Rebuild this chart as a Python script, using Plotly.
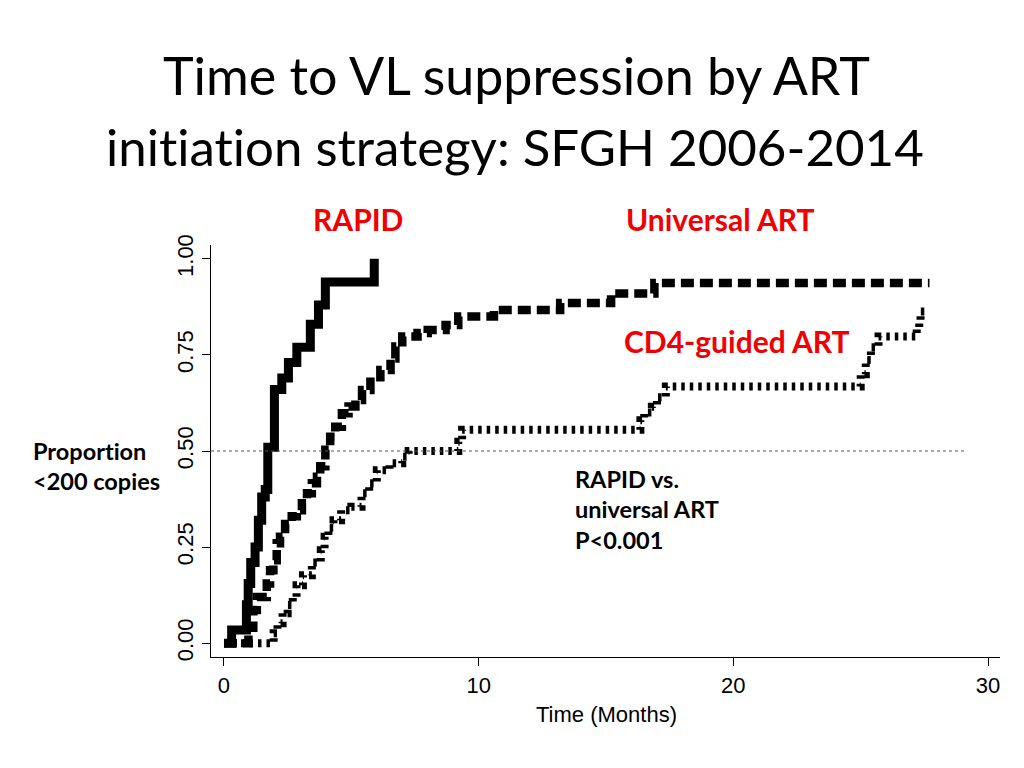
import plotly.graph_objects as go

# ---- data ----
rapid_t = [0, 0.3, 0.88, 0.95, 1.05, 1.22, 1.35, 1.48, 1.62, 1.72, 1.98, 2.27, 2.53, 2.86, 3.39, 3.71, 3.98, 5.9, 5.9]
rapid_s = [0, 0.034, 0.10, 0.155, 0.21, 0.25, 0.32, 0.38, 0.40, 0.51, 0.66, 0.69, 0.73, 0.77, 0.83, 0.88, 0.94, 1.0, 1.0]

universal_t = [0, 0.96, 1.15, 1.29, 1.68, 1.81, 1.94, 2.07, 2.2, 2.4, 2.66, 2.86, 3.06, 3.26, 3.45, 3.65,
               3.78, 3.98, 4.17, 4.37, 4.63, 4.89, 5.16, 5.42, 5.75, 6.14, 6.54, 6.73, 7.0, 7.6, 8.0, 8.7,
               9.2, 10.6, 13.2, 15.2, 16.9, 27.7]
universal_s = [0, 0.04, 0.086, 0.12, 0.155, 0.19, 0.216, 0.26, 0.277, 0.31, 0.33, 0.346, 0.364, 0.39, 0.416, 0.433,
               0.46, 0.503, 0.537, 0.563, 0.598, 0.616, 0.633, 0.659, 0.68, 0.711, 0.741, 0.772, 0.798, 0.807, 0.815, 0.828,
               0.85, 0.867, 0.885, 0.91, 0.937, 0.937]

cd4_t = [0, 1.95, 2.1, 2.3, 2.5, 2.7, 2.85, 3.1, 3.45, 3.8, 3.95, 4.1, 4.3, 4.6, 5.0, 5.4, 5.7, 6.0, 6.5, 7.0,
         7.25, 9.2, 9.35, 16.35, 16.5, 16.8, 17.0, 17.35, 25.0, 25.2, 25.4, 25.7, 27.2, 27.3, 27.35, 27.5]
cd4_s = [0, 0.026, 0.052, 0.078, 0.099, 0.12, 0.151, 0.177, 0.21, 0.242, 0.277, 0.30, 0.32, 0.346, 0.355, 0.39,
         0.416, 0.45, 0.468, 0.485, 0.50, 0.524, 0.555, 0.58, 0.60, 0.615, 0.64, 0.668, 0.70, 0.737, 0.77, 0.798,
         0.818, 0.835, 0.863, 0.863]

x_ticks = [0, 10, 20, 30]
y_ticks = [0, 0.25, 0.5, 0.75, 1.0]
y_ticklabels = ["0.00", "0.25", "0.50", "0.75", "1.00"]

ZWNJ = "\u200c"  # keeps "ti" from forming a ligature


def nolig(s):
    return s.replace("ti", "t" + ZWNJ + "i")


title_lines = ["Time to VL suppression by ART", "initiation strategy: SFGH 2006-2014"]

# ---- layout geometry (page pixels; the page has an 8px body margin) ----
OFF = 8
W, H = 1024 - OFF, 768 - OFF
L, R, T, B = 211, 1000, 245, 657


def paper(x, y):
    return (x - L) / (R - L), (B - y) / (B - T)


fig = go.Figure()

fig.add_trace(go.Scatter(x=cd4_t, y=cd4_s, mode="lines", line_shape="hv",
                         line=dict(color="black", width=8, dash="3.5px,5px"), name="CD4-guided ART"))
fig.add_trace(go.Scatter(x=universal_t, y=universal_s, mode="lines", line_shape="hv",
                         line=dict(color="black", width=8.5, dash="13px,6px"), name="Universal ART"))
fig.add_trace(go.Scatter(x=rapid_t, y=rapid_s, mode="lines", line_shape="hv",
                         line=dict(color="black", width=9), name="RAPID"))

# 0.5 reference line
fig.add_shape(type="line", xref="x", yref="y", x0=-0.51, x1=29.17, y0=0.5, y1=0.5,
              line=dict(color="#555555", width=1, dash="dot"))
# faint slide edge line
fig.add_shape(type="line", xref="paper", yref="paper",
              x0=paper(1021, 0)[0], x1=paper(1021, 0)[0], y0=paper(0, 228)[1], y1=paper(0, 768)[1],
              line=dict(color="#e6e6e6", width=2))

ann = []


def add_text(text, x, y, size, color="black", bold=False, family="Lato", xanchor="center", yanchor="middle"):
    px, py = paper(x, y)
    t = nolig(text)
    t = f"<b>{t}</b>" if bold else t
    ann.append(dict(text=t, x=px, y=py, xref="paper", yref="paper", showarrow=False,
                    xanchor=xanchor, yanchor=yanchor, font=dict(size=size, color=color, family=family)))


RED = "#f00000"
add_text(title_lines[0], 516, 75, 52)
add_text(title_lines[1], 515, 146, 51)
add_text("RAPID", 358, 219, 30, color=RED, bold=True)
add_text("Universal ART", 720, 219, 30, color=RED, bold=True)
add_text("CD4-guided ART", 622, 341, 30, color=RED, bold=True, xanchor="left")
add_text("RAPID vs.", 573, 479, 23.5, bold=True, xanchor="left")
add_text("universal ART", 573, 509, 23.5, bold=True, xanchor="left")
add_text("P<0.001", 573, 540, 23.5, bold=True, xanchor="left")
add_text("Proportion", 31, 451, 23.5, bold=True, xanchor="left")
add_text("&lt;200 copies", 31, 481, 23.5, bold=True, xanchor="left")
add_text("Time (Months)", 606, 714, 22, family="Liberation Sans")

fig.update_layout(
    width=W, height=H,
    margin=dict(l=L - OFF, r=1024 - R, t=T - OFF, b=768 - B, pad=0),
    paper_bgcolor="white", plot_bgcolor="white",
    showlegend=False,
    annotations=ann,
    xaxis=dict(range=[-0.51, 30.47], tickvals=x_ticks, ticktext=[str(v) for v in x_ticks],
               showgrid=False, zeroline=False, showline=True, linecolor="black", linewidth=1.3,
               ticks="outside", ticklen=8, tickwidth=1.3, tickcolor="black",
               tickfont=dict(family="Liberation Sans", size=22, color="black")),
    yaxis=dict(range=[-0.036, 1.036], tickvals=y_ticks, ticktext=y_ticklabels, tickangle=-90,
               showgrid=False, zeroline=False, showline=True, linecolor="black", linewidth=1.3,
               ticks="outside", ticklen=8, tickwidth=1.3, tickcolor="black",
               tickfont=dict(family="Liberation Sans", size=22, color="black")),
)

fig.write_html("out.html")
